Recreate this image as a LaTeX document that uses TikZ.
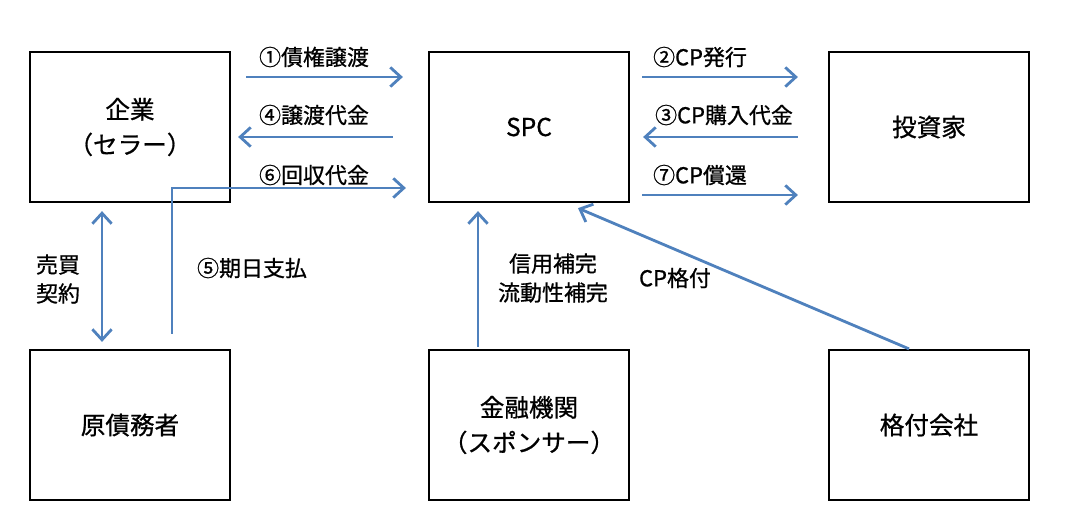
\documentclass[tikz,border=0pt]{standalone}
\usepackage{fontspec}
\setmainfont{Noto Sans CJK JP}[FakeBold=0.8]
\usetikzlibrary{arrows.meta}
\definecolor{flowblue}{RGB}{79,129,189}
\begin{document}
\begin{tikzpicture}[x=0.02cm,y=-0.02cm,
  flowtip/.tip={Straight Barb[length=6pt,width=11pt]},
  party/.style={draw,line width=1.3pt,minimum width=4cm,minimum height=3cm,
    align=center,font=\fontsize{14}{20}\selectfont},
  flow/.style={draw=flowblue,line width=1.6pt,-flowtip},
  lbl/.style={font=\fontsize{12.5}{16.5}\selectfont}]
  \useasboundingbox (0,0) rectangle (1072,529);
  % 当事者
  \node[party] (corp)   at (130,127) {企業\\（セラー）};
  \node[party] (spc)    at (529,127) {SPC};
  \node[party] (inv)    at (929,127) {投資家};
  \node[party] (debtor) at (130,425) {原債務者};
  \node[party] (bank)   at (529,425) {金融機関\\（スポンサー）};
  \node[party] (rating) at (929,425) {格付会社};
  % 企業 -- SPC
  \draw[flow,shorten <=0.3cm,shorten >=0.5cm] ([yshift=1cm]corp.east) -- ([yshift=1cm]spc.west);
  \draw[flow,shorten <=0.7cm,shorten >=0.14cm] ([yshift=-0.2cm]spc.west) -- ([yshift=-0.2cm]corp.east);
  \draw[flow,shorten >=0.44cm] ([xshift=0.84cm,yshift=0.3cm]debtor.north) |- ([yshift=-1.22cm]spc.west);
  \node[lbl] (l1) at (314,57) {①債権譲渡};
  \node[lbl] (l4) at (314,115) {④譲渡代金};
  \node[lbl] (l6) at (314,175) {⑥回収代金};
  \node[lbl] (l5) at (252,268) {⑤期日支払};
  % 売買契約
  \draw[flow,flowtip-flowtip,shorten <=0.16cm,shorten >=0.14cm] ([xshift=-0.56cm]corp.south) -- ([xshift=-0.56cm]debtor.north);
  \node[lbl,align=left] (deal) at (58,279) {売買\\契約};
  % SPC -- 投資家
  \draw[flow,shorten <=0.24cm,shorten >=0.6cm] ([yshift=1cm]spc.east) -- ([yshift=1cm]inv.west);
  \draw[flow,shorten <=0.6cm,shorten >=0.26cm] ([yshift=-0.2cm]inv.west) -- ([yshift=-0.2cm]spc.east);
  \draw[flow,shorten <=0.24cm,shorten >=0.6cm] ([yshift=-1.36cm]spc.east) -- ([yshift=-1.36cm]inv.west);
  \node[lbl] (l2) at (700,57) {②CP発行};
  \node[lbl] (l3) at (724,115) {③CP購入代金};
  \node[lbl] (l7) at (700,175) {⑦CP償還};
  % 補完・格付
  \draw[flow,shorten <=0.04cm,shorten >=0.16cm] ([xshift=-1.02cm]bank.north) -- ([xshift=-1.02cm]spc.south);
  \draw[flow] ([xshift=-0.4cm]rating.north) -- ([xshift=0.98cm,yshift=-0.1cm]spc.south);
  \node[lbl,align=center] (sup) at (553,278) {信用補完\\流動性補完};
  \node[lbl] (cpr) at (675,278) {CP格付};
\end{tikzpicture}
\end{document}
